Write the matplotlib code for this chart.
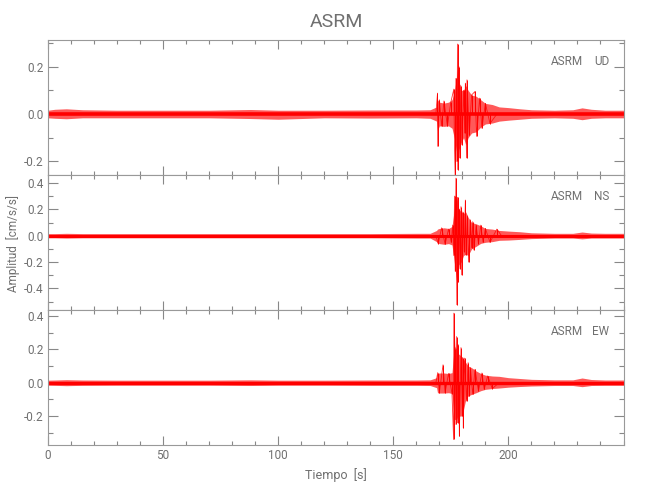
import numpy as np
import matplotlib
matplotlib.use('Agg')
import matplotlib.pyplot as plt
from matplotlib.ticker import MultipleLocator

plt.rcParams['font.family'] = ['Roboto', 'DejaVu Sans']

estacion = "ASRM"
componentes = ["UD", "NS", "EW"]

# envelope of each trace, time in s, amplitude in cm/s/s
t_env = [0, 3, 8, 15, 30, 50, 70, 88, 100, 120, 140, 160, 166, 168.8, 169.2, 170, 172, 174,
         175.5, 176.5, 177.5, 178, 178.5, 179.5, 180.5, 181.5, 182.5, 184, 186, 188, 190,
         193, 196, 200, 205, 210, 220, 228, 232, 236, 242, 250]

ud_up = [0.016, 0.020, 0.022, 0.018, 0.016, 0.016, 0.016, 0.019, 0.016, 0.016, 0.017, 0.017, 0.018,
         0.030, 0.060, 0.050, 0.046, 0.050, 0.060, 0.090, 0.160, 0.200, 0.140, 0.100, 0.100, 0.120,
         0.100, 0.080, 0.075, 0.060, 0.045, 0.040, 0.030, 0.027, 0.022, 0.018, 0.016, 0.018, 0.026,
         0.020, 0.016, 0.016]
ud_lo = [-0.016, -0.018, -0.020, -0.016, -0.016, -0.016, -0.016, -0.019, -0.022, -0.016, -0.017, -0.016, -0.018,
         -0.030, -0.070, -0.050, -0.052, -0.050, -0.060, -0.100, -0.160, -0.200, -0.150, -0.120, -0.100, -0.130,
         -0.100, -0.080, -0.075, -0.055, -0.042, -0.038, -0.030, -0.026, -0.022, -0.018, -0.016, -0.018, -0.024,
         -0.018, -0.016, -0.016]

ns_up = [0.016, 0.016, 0.018, 0.016, 0.016, 0.016, 0.016, 0.016, 0.016, 0.016, 0.016, 0.018, 0.018,
         0.040, 0.050, 0.055, 0.060, 0.055, 0.070, 0.200, 0.300, 0.250, 0.200, 0.180, 0.170, 0.180,
         0.140, 0.100, 0.090, 0.075, 0.055, 0.050, 0.040, 0.035, 0.030, 0.022, 0.018, 0.018, 0.028,
         0.020, 0.018, 0.018]
ns_lo = [-0.016, -0.016, -0.018, -0.016, -0.016, -0.016, -0.016, -0.016, -0.016, -0.016, -0.016, -0.018, -0.018,
         -0.045, -0.055, -0.060, -0.065, -0.060, -0.070, -0.200, -0.350, -0.300, -0.220, -0.200, -0.150, -0.140,
         -0.150, -0.100, -0.080, -0.058, -0.050, -0.045, -0.035, -0.033, -0.028, -0.022, -0.018, -0.018, -0.024,
         -0.018, -0.018, -0.018]

ew_up = [0.015, 0.016, 0.018, 0.016, 0.015, 0.015, 0.015, 0.017, 0.015, 0.015, 0.016, 0.016, 0.017,
         0.030, 0.055, 0.058, 0.058, 0.055, 0.060, 0.220, 0.200, 0.180, 0.170, 0.160, 0.140, 0.120,
         0.100, 0.090, 0.070, 0.055, 0.045, 0.040, 0.038, 0.030, 0.025, 0.020, 0.017, 0.017, 0.028,
         0.019, 0.016, 0.016]
ew_lo = [-0.015, -0.016, -0.018, -0.016, -0.015, -0.015, -0.015, -0.017, -0.015, -0.015, -0.016, -0.016, -0.017,
         -0.030, -0.060, -0.062, -0.062, -0.060, -0.065, -0.220, -0.220, -0.200, -0.200, -0.200, -0.160, -0.100,
         -0.080, -0.070, -0.060, -0.048, -0.040, -0.035, -0.032, -0.027, -0.023, -0.020, -0.017, -0.017, -0.024,
         -0.017, -0.016, -0.016]

# individual peaks of the strong motion part
ud_pk_t = [168.5, 169.2, 169.3, 170.0, 171.0, 172.0, 173.5, 175.0, 176.3, 176.6, 176.9, 177.2, 177.6, 177.9,
           178.0, 178.5, 178.8, 179.3, 179.8, 180.5, 181.0, 181.3, 181.8, 182.0, 183.0, 184.0, 185.5,
           186.2, 187.5, 188.5, 190.0, 192.0, 195.0]
ud_pk_a = [0.000, 0.088, -0.136, 0.060, -0.050, 0.055, -0.050, 0.050, 0.105, -0.143, -0.277, 0.150, -0.200,
           0.295, -0.234, 0.200, -0.185, 0.120, -0.130, 0.100, -0.080, 0.130, -0.185, 0.144, -0.090, 0.080,
           0.095, -0.094, 0.067, -0.060, 0.045, -0.040, 0.000]

ns_pk_t = [168.5, 169.5, 171.0, 172.5, 174.0, 175.2, 175.8, 176.3, 176.6, 176.9, 177.2, 177.6, 177.9, 178.3,
           178.6, 179.0, 179.4, 179.7, 180.2, 180.8, 181.3, 181.6, 182.2, 182.7, 183.5, 184.0, 184.5,
           185.0, 186.0, 187.0, 188.0, 189.0, 190.0, 192.0, 195.0, 197.0]
ns_pk_a = [0.000, -0.060, 0.060, -0.065, 0.050, -0.050, 0.080, -0.150, 0.300, -0.270, 0.436, -0.523, 0.290,
           -0.350, 0.200, -0.250, 0.220, -0.297, 0.180, -0.120, 0.270, -0.146, 0.150, -0.200, 0.120, -0.090,
           0.106, -0.108, 0.080, -0.060, 0.080, -0.050, 0.055, -0.050, 0.050, 0.000]

ew_pk_t = [168.5, 169.3, 170.0, 171.6, 172.5, 174.0, 175.5, 176.2, 176.3, 176.8, 177.2, 177.5, 177.9, 178.3,
           178.7, 179.4, 180.0, 180.2, 180.4, 181.0, 181.8, 182.5, 183.0, 183.5, 184.5, 185.5, 187.0,
           188.5, 189.5, 191.0, 193.0, 196.0]
ew_pk_a = [0.000, 0.060, -0.060, 0.107, -0.060, 0.055, -0.065, -0.340, 0.416, 0.200, -0.250, 0.276, -0.240,
           0.227, -0.320, 0.210, -0.200, 0.150, -0.270, 0.147, -0.110, 0.120, -0.080, 0.090, -0.070, 0.080,
           -0.050, 0.058, -0.040, 0.040, -0.035, 0.000]

ylims = [(-0.257, 0.312), (-0.563, 0.46), (-0.373, 0.435)]
yticks = [[-0.2, 0.0, 0.2], [-0.4, -0.2, 0.0, 0.2, 0.4], [-0.2, 0.0, 0.2, 0.4]]
core_lw = [2.6, 2.2, 2.4]

envs = [(ud_up, ud_lo), (ns_up, ns_lo), (ew_up, ew_lo)]
peaks = [(ud_pk_t, ud_pk_a), (ns_pk_t, ns_pk_a), (ew_pk_t, ew_pk_a)]

gris = '#707070'
rojo = '#ff0000'

fig = plt.figure(figsize=(6.5, 5), dpi=100)
# panels: 40-175, 175-310, 310-445 px from top; x 48-623.5 px
bottoms = [0.65, 0.38, 0.11]
alto = 0.27
izq = 48 / 650
ancho = 575.5 / 650

for i in range(3):
    ax = fig.add_axes([izq, bottoms[i], ancho, alto])
    up, lo = envs[i]
    ax.fill_between(t_env, lo, up, color=rojo, alpha=0.65, lw=0, clip_on=False)
    ax.axhline(0, color=rojo, lw=core_lw[i])
    pt, pa = peaks[i]
    ax.plot(pt, pa, color=rojo, lw=0.6, alpha=0.8, clip_on=False)
    ax.vlines(pt, 0, pa, color=rojo, lw=0.7, clip_on=False)
    ax.set_xlim(0, 250)
    ax.set_ylim(*ylims[i])
    ax.set_yticks(yticks[i])
    ax.set_yticklabels(['%.1f' % v for v in yticks[i]])
    ax.yaxis.set_minor_locator(MultipleLocator(0.1))
    ax.set_xticks([0, 50, 100, 150, 200])
    ax.xaxis.set_minor_locator(MultipleLocator(10))
    ax.tick_params(which='both', direction='in', top=True, right=True, colors='#888888',
                   labelsize=8.5, labelcolor=gris, width=0.8, pad=3)
    ax.tick_params(axis='y', which='major', length=7)
    ax.tick_params(axis='y', which='minor', length=3.5)
    ax.tick_params(axis='x', which='major', length=6.5)
    ax.tick_params(axis='x', which='minor', length=2.8)
    for s in ax.spines.values():
        s.set_color('#999999')
        s.set_linewidth(0.8)
    if i < 2:
        ax.tick_params(labelbottom=False)
    else:
        ax.set_xlabel('Tiempo  [s]', color=gris, fontsize=9, labelpad=4)
    ax.text(0.9296, 0.84, estacion, transform=ax.transAxes,
            ha='right', va='center', color=gris, fontsize=8.5)
    ax.text(0.975, 0.84, componentes[i], transform=ax.transAxes,
            ha='right', va='center', color=gris, fontsize=8.5)

fig.text(0.02, 0.514, 'Amplitud  [cm/s/s]', rotation=90, ha='center', va='center',
         color=gris, fontsize=8.5)
fig.text(0.517, 0.956, estacion, ha='center', va='center', color=gris, fontsize=14)

fig.savefig('out.png', dpi=100)
